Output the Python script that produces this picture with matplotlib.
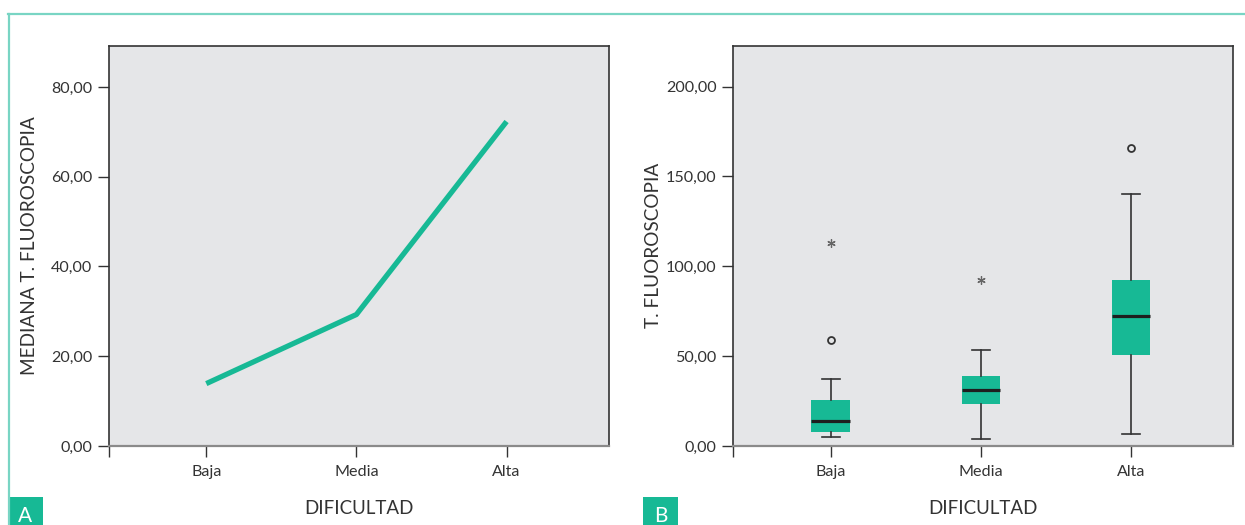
import matplotlib.pyplot as plt
from matplotlib.patches import Rectangle
from matplotlib.lines import Line2D

plt.rcParams['font.family'] = ['Lato', 'DejaVu Sans']

categorias = ['Baja', 'Media', 'Alta']
mediana_tf = [13.9, 29.3, 72.3]

# boxplot B (SPSS): cuartiles, bigotes, atipicos (o) y extremos (*)
q1 = [8.0, 23.5, 50.8]
med = [13.9, 31.3, 72.2]
q3 = [25.6, 39.0, 92.4]
bigote_inf = [5.0, 3.9, 6.8]
bigote_sup = [37.5, 53.2, 140.1]
atipicos = [[59.0], [], [166.0]]
extremos = [[113.1], [92.4], []]

ticks_a = [0, 20, 40, 60, 80]
ticks_b = [0, 50, 100, 150, 200]

teal = '#17b995'
fondo = '#e5e6e8'
oscuro = '#333333'
x = [1, 2, 3]
xlim = (0.35, 3.68)


def coma(v):
    return f"{v:.2f}".replace('.', ',')


def estilo(ax, yticks, ylim, ylabel):
    ax.set_facecolor(fondo)
    ax.set_xlim(*xlim)
    ax.set_ylim(*ylim)
    for s in ['left', 'top', 'right']:
        ax.spines[s].set_color(oscuro)
        ax.spines[s].set_linewidth(1.2)
    ax.spines['bottom'].set_color('#8a8a8a')
    ax.spines['bottom'].set_linewidth(1.6)
    ax.set_yticks(yticks)
    ax.set_yticklabels([coma(v) for v in yticks])
    ax.set_xticks([xlim[0]] + x)
    ax.set_xticklabels([''] + categorias)
    ax.tick_params(axis='both', length=8, width=1, color=oscuro,
                   labelsize=11.6, labelcolor='#333333', pad=4)
    ax.tick_params(axis='x', pad=6)
    ax.set_ylabel(ylabel, fontsize=13.7, color='#333333')
    ax.yaxis.label.set_verticalalignment('center')
    ax.yaxis.set_label_coords(-0.159, 0.5)
    ax.set_xlabel('DIFICULTAD', fontsize=13.5, color='#333333')
    ax.xaxis.label.set_verticalalignment('center')
    ax.xaxis.set_label_coords(0.5, -0.155)


fig = plt.figure(figsize=(12.45, 5.25), dpi=100)
ax1 = fig.add_axes([0.0873, 0.1505, 0.4016, 0.7625])
ax2 = fig.add_axes([0.5890, 0.1505, 0.4014, 0.7625])

# A: linea de medianas
ax1.plot(x, mediana_tf, color=teal, lw=3.8, solid_capstyle='butt')
estilo(ax1, ticks_a, (0, 89.2), 'MEDIANA T. FLUOROSCOPIA')

# B: diagrama de cajas
stats = []
for i in range(3):
    stats.append({'med': med[i], 'q1': q1[i], 'q3': q3[i],
                  'whislo': bigote_inf[i], 'whishi': bigote_sup[i],
                  'fliers': []})
ax2.bxp(stats, positions=x, widths=0.258, patch_artist=True,
        showfliers=False, manage_ticks=False,
        boxprops=dict(facecolor=teal, edgecolor='none'),
        medianprops=dict(color='#1e1e1e', lw=2.3),
        whiskerprops=dict(color=oscuro, lw=1.2),
        capprops=dict(color=oscuro, lw=1.2),
        capwidths=0.12)
for xi, vals in zip(x, atipicos):
    ax2.plot([xi] * len(vals), vals, 'o', ms=5, mfc='none', mec=oscuro, mew=1.3)
for xi, vals in zip(x, extremos):
    ax2.plot([xi] * len(vals), vals, marker=(6, 2, 0), ls='none', ms=6,
             color='#666666', mew=0.9)
estilo(ax2, ticks_b, (0, 222.8), 'T. FLUOROSCOPIA')

# marco y etiquetas de panel
borde = '#79d5c4'
fig.add_artist(Line2D([8 / 1245, 1], [1 - 14 / 525] * 2, color=borde, lw=1.6))
fig.add_artist(Line2D([9 / 1245] * 2, [0, 1 - 14 / 525], color=borde, lw=1.6))
for letra, x0 in [('A', 8), ('B', 643)]:
    fig.add_artist(Rectangle((x0 / 1245, -0.01), 35 / 1245, 0.064,
                             transform=fig.transFigure, color=teal, lw=0))
    fig.text((x0 + 17.5) / 1245, 3 / 525, letra, color='white', fontsize=15,
             ha='center', va='baseline')

fig.savefig('out.png', dpi=100)
